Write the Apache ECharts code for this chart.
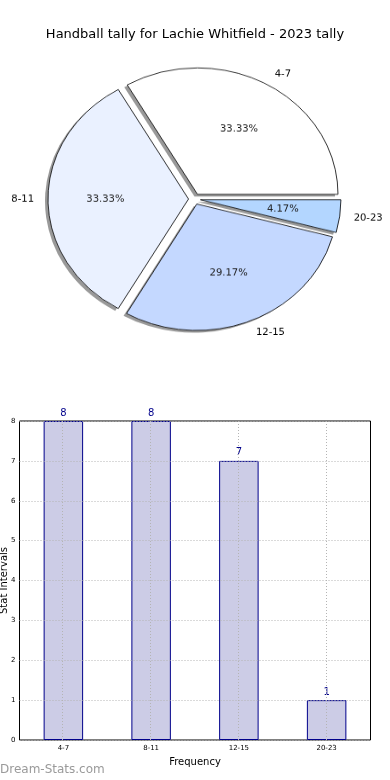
<!DOCTYPE html>
<html>
<head>
<meta charset="utf-8">
<script src="https://cdn.jsdelivr.net/npm/echarts@6/dist/echarts.min.js"></script>
<style>
  html, body { margin: 0; padding: 0; background: #fff; }
  #wrap { position: relative; width: 390px; height: 780px; }
  #main { position: absolute; left: 0; top: 0; width: 390px; height: 780px; }
  #pie { position: absolute; left: 0; top: 0; width: 390px; height: 400px;
         transform: scaleY(0.9); transform-origin: 0 199px; }
</style>
</head>
<body>
<div id="wrap">
  <div id="main"></div>
  <div id="pie"></div>
</div>
<script>
// ---- data ----
const titleText = 'Handball tally for Lachie Whitfield - 2023 tally';
const categories = ['4-7', '8-11', '12-15', '20-23'];
const counts = [8, 8, 7, 1];
const sliceColors = ['#ffffff', '#eaf1ff', '#c4d8ff', '#b3d6ff'];
const yTicks = [0, 1, 2, 3, 4, 5, 6, 7, 8];
const xName = 'Frequency';
const yName = 'Stat Intervals';
const watermark = 'Dream-Stats.com';

const FONT = 'DejaVu Sans';
const dotted = { type: [1, 2], color: '#b4b4b4', width: 1 };

// ---- bar chart + title ----
const main = echarts.init(document.getElementById('main'), null, { renderer: 'canvas' });
main.setOption({
  animation: false,
  backgroundColor: 'transparent',
  title: {
    text: titleText, left: 'center', top: 23,
    textStyle: { fontFamily: FONT, fontSize: 13, fontWeight: 'normal', color: '#000' }
  },
  grid: [
    { left: 19.5, right: 19.5, top: 421, bottom: 40, outerBoundsMode: 'none', containLabel: false,
      show: true, borderColor: '#000', borderWidth: 1, backgroundColor: 'transparent' },
    { left: 62.5, right: 64, top: 421, bottom: 40, outerBoundsMode: 'none', containLabel: false }
  ],
  xAxis: [
    {
      type: 'category', gridIndex: 0, data: categories,
      axisLine: { show: false }, axisTick: { show: false },
      axisLabel: { fontFamily: FONT, fontSize: 7, color: '#000', margin: 5 },
      splitLine: { show: false },
      name: xName, nameLocation: 'middle', nameGap: 17, nameMoveOverlap: false,
      nameTextStyle: { fontFamily: FONT, fontSize: 10, color: '#000' }
    },
    {
      type: 'category', gridIndex: 1, data: categories, boundaryGap: false, z: 5,
      axisLine: { show: false }, axisTick: { show: false }, axisLabel: { show: false },
      splitLine: { show: true, lineStyle: dotted }
    }
  ],
  yAxis: [
    {
      type: 'value', gridIndex: 0, min: yTicks[0], max: yTicks[yTicks.length - 1], interval: 1, z: 5,
      axisLine: { show: false }, axisTick: { show: false },
      axisLabel: { fontFamily: FONT, fontSize: 7, color: '#000', margin: 4 },
      splitLine: { show: true, lineStyle: dotted },
      name: yName, nameLocation: 'middle', nameGap: 10, nameMoveOverlap: false,
      nameTextStyle: { fontFamily: FONT, fontSize: 10, color: '#000' }
    },
    {
      type: 'value', gridIndex: 1, min: 0, max: 8, interval: 1, show: false
    }
  ],
  series: [{
    type: 'bar', xAxisIndex: 0, yAxisIndex: 0, data: counts, barWidth: '45%',
    itemStyle: { color: '#ccccE6', borderColor: '#00008b', borderWidth: 1 },
    label: { show: true, position: 'top', distance: 3, fontFamily: FONT, fontSize: 10, color: '#00008b' },
    emphasis: { disabled: true }, silent: true
  }],
  graphic: [{
    type: 'text', left: 0, top: 764,
    style: { text: watermark, fontFamily: FONT, fontSize: 12, fill: '#9a9a9a', fontWeight: 'normal' },
    silent: true
  }]
});

// ---- pie chart (drawn in a container squashed vertically to match the elliptical original) ----
const pie = echarts.init(document.getElementById('pie'), null, { renderer: 'canvas' });
const R = 140.5;
const commonPie = {
  type: 'pie', center: [194.5, 199], startAngle: 0, clockwise: false,
  selectedMode: 'multiple', selectedOffset: 6, avoidLabelOverlap: false,
  emphasis: { disabled: true }, silent: true
};
pie.setOption({
  animation: false,
  backgroundColor: 'transparent',
  series: [
    // shadow layer
    Object.assign({}, commonPie, {
      radius: R, z: 1,
      itemStyle: { color: '#ffffff', borderWidth: 0, shadowColor: 'rgba(0,0,0,0.4)', shadowOffsetX: -3, shadowOffsetY: 2.5, shadowBlur: 0 },
      select: { itemStyle: { borderWidth: 0 } },
      label: { show: false }, labelLine: { show: false },
      data: categories.map((c, i) => ({ name: c, value: counts[i], selected: true }))
    }),
    // visible wedges with outer name labels
    Object.assign({}, commonPie, {
      radius: R, z: 2,
      itemStyle: { borderColor: '#000', borderWidth: 0.8 },
      select: { itemStyle: { borderColor: '#000', borderWidth: 0.8 } },
      label: { show: true, position: 'outside', formatter: '{b}', fontFamily: FONT, fontSize: 10, color: '#000', distanceToLabelLine: 0 },
      labelLine: { show: false, length: 14, length2: 0 },
      data: categories.map((c, i) => ({ name: c, value: counts[i], selected: true, itemStyle: { color: sliceColors[i] } }))
    }),
    // percentage labels
    Object.assign({}, commonPie, {
      radius: [R * 0.14, R], z: 3,
      itemStyle: { color: 'rgba(0,0,0,0)', borderWidth: 0 },
      label: { show: true, position: 'inside', formatter: '{d}%', fontFamily: FONT, fontSize: 10, color: '#1a1a1a' },
      labelLine: { show: false },
      data: categories.map((c, i) => ({ name: c, value: counts[i], selected: true }))
    })
  ]
});
</script>
</body>
</html>
